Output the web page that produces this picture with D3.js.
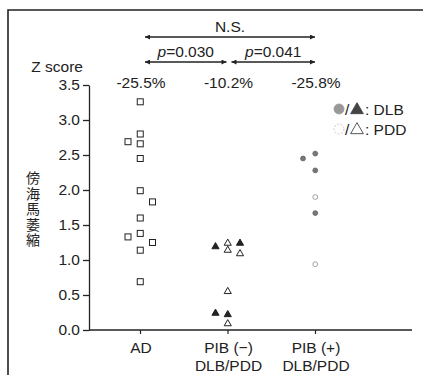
<!DOCTYPE html>
<html><head><meta charset="utf-8">
<script src="https://cdn.jsdelivr.net/npm/d3@7"></script>
<style>
body{margin:0;background:#fff;}
text{font-family:"Liberation Sans","Noto Sans",sans-serif;fill:#222;}
text.vt{font-family:"Noto Sans CJK JP",sans-serif;}
</style></head>
<body><svg id="c" width="423" height="375"></svg>
<script>
const categories = ["AD", "PIB_NEG", "PIB_POS"];
const categoryLabels = [["AD"], ["PIB (−)", "DLB/PDD"], ["PIB (+)", "DLB/PDD"]];
const percentLabels = ["-25.5%", "-10.2%", "-25.8%"];
const yTicks = [0, 0.5, 1.0, 1.5, 2.0, 2.5, 3.0, 3.5];
const yTitle = "傍海馬萎縮";
// AD: [column, value]
const adValues = [[0,3.26],[0,2.80],[-1,2.69],[0,2.66],[0,2.45],[0,1.99],[1,1.83],[0,1.60],[0,1.38],[-1,1.33],[1,1.25],[0,1.14],[0,0.69]];
// PIB(-): [column, value, type] type: "DLB" filled, "PDD" open
const pibNegValues = [[-1,1.19,"DLB"],[0,1.24,"PDD"],[0,1.14,"PDD"],[1,1.24,"DLB"],[1,1.09,"PDD"],[0,0.55,"PDD"],[-1,0.24,"DLB"],[0,0.22,"DLB"],[0,0.09,"PDD"]];
const pibPosValues = [[-1,2.45,"DLB"],[0,2.52,"DLB"],[0,2.28,"DLB"],[0,1.90,"PDD"],[0,1.67,"DLB"],[0,0.94,"PDD"]];
const comparisons = [{from:"AD",to:"PIB_POS",label:"N.S.",level:0},{from:"AD",to:"PIB_NEG",label:"p=0.030",level:1},{from:"PIB_NEG",to:"PIB_POS",label:"p=0.041",level:1}];

const FS = 15.5;
const svg = d3.select("#c");
// frame
svg.append("path").attr("d","M8,375 V10 H423").attr("fill","none").attr("stroke","#222").attr("stroke-width",1.6);

const x = d3.scalePoint().domain(categories).range([140, 315]);
const y = d3.scaleLinear().domain([0, 3.5]).range([330, 85]);
const jitter = d3.scaleLinear().domain([-1, 1]).range([-12, 12.5]);

// y axis
const ya = svg.append("g").attr("transform","translate(89,0)")
  .call(d3.axisLeft(y).tickValues(yTicks).tickFormat(d3.format(".1f")).tickSize(6).tickSizeOuter(0));
ya.select(".domain").attr("stroke","#222").attr("stroke-width",1.3);
ya.selectAll(".tick line").attr("stroke","#222").attr("stroke-width",1.3);
ya.selectAll(".tick text").attr("font-size",FS).attr("x",-9).attr("fill","#222")
  .style("font-family",'"Liberation Sans",sans-serif');

// x axis
const xa = svg.append("g").attr("transform","translate(0,330)")
  .call(d3.axisBottom(x).tickSize(4).tickSizeOuter(0).tickFormat(""));
xa.select(".domain").attr("d","M89,0H412").attr("stroke","#222").attr("stroke-width",1.3);
xa.selectAll(".tick line").attr("stroke","#222").attr("stroke-width",1.2);
categories.forEach((c,i)=>{
  categoryLabels[i].forEach((l,j)=>{
    svg.append("text").attr("text-anchor","middle").attr("font-size",FS)
      .attr("x",x(c)+1).attr("y",353+j*17.5).text(l);
  });
});

// axis title
svg.append("text").attr("x",83).attr("y",72).attr("text-anchor","end").attr("font-size",FS).text("Z score");
const chars = Array.from(yTitle);
svg.append("text").attr("class","vt").attr("font-size",14).attr("text-anchor","middle")
  .attr("x",chars.map(()=>33).join(" "))
  .attr("y",chars.map((c,i)=>183+i*15.5).join(" "))
  .text(yTitle);

// percent labels
categories.forEach((c,i)=>{
  svg.append("text").attr("x",x(c)+1).attr("y",88).attr("text-anchor","middle").attr("font-size",FS).text(percentLabels[i]);
});

// comparison arrows
const defs = svg.append("defs");
defs.append("marker").attr("id","ah").attr("viewBox","0 0 10 10").attr("refX",10).attr("refY",5)
  .attr("markerWidth",8).attr("markerHeight",5).attr("markerUnits","userSpaceOnUse").attr("orient","auto-start-reverse")
  .append("path").attr("d","M0,0L10,5L0,10z").attr("fill","#222");
const arrowY = [37, 62];
comparisons.forEach(cmp=>{
  let x1 = x(cmp.from)+5, x2 = x(cmp.to);
  if (cmp.from==="PIB_NEG") x1 = x(cmp.from)+4;
  if (cmp.to==="PIB_NEG") x2 = x(cmp.to)-1;
  svg.append("line").attr("x1",x1).attr("x2",x2).attr("y1",arrowY[cmp.level]).attr("y2",arrowY[cmp.level])
    .attr("stroke","#222").attr("stroke-width",1.3).attr("marker-start","url(#ah)").attr("marker-end","url(#ah)");
  const cx = (x1+x2)/2;
  const t = svg.append("text").attr("x",cx).attr("y",arrowY[cmp.level]-5).attr("text-anchor","middle").attr("font-size",FS);
  if (cmp.label.startsWith("p=")) {
    t.append("tspan").attr("font-style","italic").text("p");
    t.append("tspan").text("=" + cmp.label.slice(2));
  } else t.text(cmp.label);
});

// AD squares
svg.append("g").selectAll("rect").data(adValues).join("rect")
  .attr("x",d=>x("AD")+jitter(d[0])-3).attr("y",d=>y(d[1])-3).attr("width",6).attr("height",6)
  .attr("fill","#fff").attr("stroke","#222").attr("stroke-width",1);

// triangles
const tri = d3.symbol().type(d3.symbolTriangle).size(22);
svg.append("g").selectAll("path").data(pibNegValues).join("path")
  .attr("d",tri).attr("transform",d=>`translate(${x("PIB_NEG")+jitter(d[0])},${y(d[1])})`)
  .attr("fill",d=>d[2]==="DLB"?"#222":"#fff").attr("stroke","#222").attr("stroke-width",1);

// circles
svg.append("g").selectAll("circle").data(pibPosValues).join("circle")
  .attr("cx",d=>x("PIB_POS")+jitter(d[0])).attr("cy",d=>y(d[1])).attr("r",2.4)
  .attr("fill",d=>d[2]==="DLB"?"#777":"#fff").attr("stroke",d=>d[2]==="DLB"?"#666":"#999").attr("stroke-width",0.9);

// legend
const legend = [{label:"DLB",fill:"#999",tfill:"#444",stroke:"#999",dash:null},{label:"PDD",fill:"#fff",tfill:"#fff",stroke:"#bbb",dash:"2,1.5"}];
legend.forEach((l,i)=>{
  const ly = 109 + i*20;
  svg.append("circle").attr("cx",339).attr("cy",ly).attr("r",5).attr("fill",l.fill).attr("stroke",l.stroke)
    .attr("stroke-width",0.8).attr("stroke-dasharray",l.dash);
  svg.append("text").attr("x",345).attr("y",ly+5.5).attr("font-size",FS).text("/");
  svg.append("path").attr("d",d3.symbol().type(d3.symbolTriangle).size(70)).attr("transform",`translate(357,${ly+1})`)
    .attr("fill",l.tfill).attr("stroke","#444").attr("stroke-width",0.9);
  svg.append("text").attr("x",365).attr("y",ly+5.5).attr("font-size",FS).text(": " + l.label);
});
</script></body></html>
